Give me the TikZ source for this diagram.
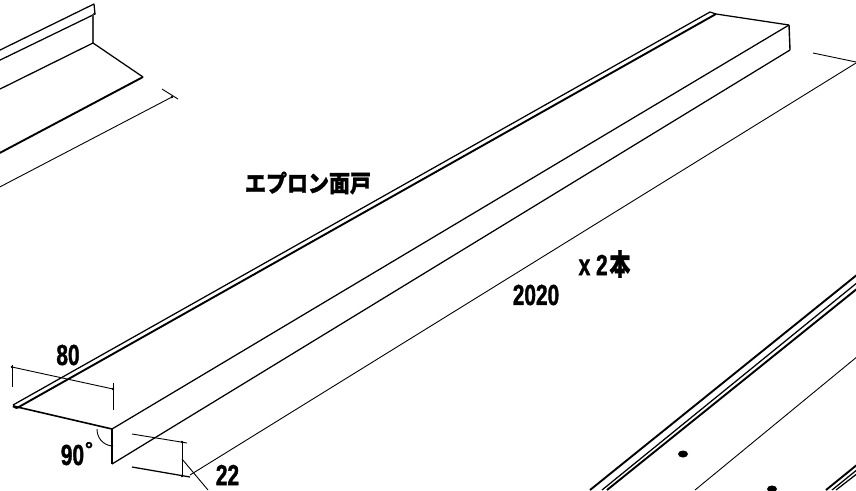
\documentclass[tikz,border=0pt]{standalone}
\usepackage{fontspec}
\setmainfont[BoldFeatures={FakeBold=1.6}]{Liberation Sans}
\newfontfamily\cjk[BoldFeatures={FakeBold=1.2}]{Noto Sans CJK JP}
\tikzset{
  thinline/.style={line width=0.9pt,black},
  midline/.style={line width=1.25pt,black},
  heavyline/.style={line width=1.9pt,black},
  dimtext/.style={inner sep=0pt,font=\bfseries\fontsize{29}{29}\selectfont,xscale=0.72,yscale=1},
  cjktext/.style={inner sep=0pt,font=\cjk\bfseries\fontsize{21}{21}\selectfont,yscale=1.12},
  dimdot/.style={circle,fill=black,inner sep=0pt,minimum size=2.6pt},
}
\begin{document}
\begin{tikzpicture}[x=1pt,y=-1pt]
\useasboundingbox (0,0) rectangle (856,490);
\fill[white] (0,0) rectangle (856,490);
\begin{scope}
\clip (0,0) rectangle (856,490);
% upper-left piece
\coordinate (la) at (94,4);
\coordinate (lb) at (95,14);
\coordinate (lc) at (93,43);
\coordinate (ld) at (143,77);
\draw[midline] (la) -- (-6,53);
\draw[midline] (la) -- (lb) -- (93,14);
\draw[midline] (lb) -- (-6,63);
\draw[line width=1.3pt,black!75] (93,14) -- (lc);
\draw[midline] (lc) -- (-6,92);
\draw[midline] (lc) -- (ld);
\draw[heavyline] (ld) -- (-6,156);
\coordinate (le) at (172,97);
\draw[thinline] (le) -- (-6,190);
\draw[thinline] (162,89) -- (178,99);
\node[dimdot] at (le) {};
% main flashing
\coordinate (tip) at (13,406);
\coordinate (fa) at (112,429);
\coordinate (fb) at (112,464);
\coordinate (ra) at (789,25);
\coordinate (rb) at (790,50);
\coordinate (ua) at (710,12);
\coordinate (ub) at (716,14);
\draw[midline] (13,405) -- (ua) -- (ub);
\draw[heavyline] (17,408) -- (ub);
\draw[line width=2.4pt] (tip) -- (17,408);
\draw[line width=1.6pt] (tip) -- (fa);
\draw[midline] (ub) -- (ra);
\draw[midline] (fa) -- (ra);
\draw[midline] (fa) -- (fb);
\draw[line width=1.4pt] (ra) -- (rb);
\draw[midline] (fb) -- (rb);
% 80 dimension
\coordinate (da) at (12,367);
\coordinate (db) at (113,389);
\draw[thinline] (da) -- (db);
\draw[thinline] (12,365) -- (12,387);
\draw[thinline] (113,383) -- (113,410);
\node[dimdot] at (da) {};
\node[dimdot] at (db) {};
\node[dimtext] (t80) at (68,355) {80};
% 90 arc
\coordinate (ac) at (112,446);
\draw[thinline] (97,429) .. controls (97,438) and (103,445) .. (ac);
\node[dimdot] at (ac) {};
\node[dimtext] (t90) at (72.5,455) {90};
\node[inner sep=0pt,font=\bfseries\fontsize{20}{20}\selectfont] (tdeg) at (89,449) {°};
% 22 dimension and long dimension
\coordinate (ga) at (182,442);
\coordinate (gb) at (182,476);
\coordinate (gl) at (182,459);
\coordinate (ge) at (208,490);
\draw[thinline] (132,434) -- (187,443);
\draw[midline] (132,467) -- (190,477);
\draw[thinline] (ga) -- (gb);
\draw[thinline] (gl) -- (ge);
\node[dimdot] at (ga) {};
\node[dimdot] at (gb) {};
\node[dimtext] (t22) at (227.5,475) {22};
\draw[thinline] (190,475) -- (856,63);
\draw[thinline] (813,53) -- (856,62);
% labels
\node[cjktext] (title) at (308,183) {エプロン面戸};
\node[dimtext] (tlen) at (536,295) {2020};
\node[dimtext] (tx) at (604.5,264) {x 2\kern2.5pt\cjk 本};
% lower-right piece
\draw[heavyline] (590,490) -- (858,274);
\draw[midline] (602,490) -- (858,282);
\draw[heavyline] (607,490) -- (858,288);
\draw[thinline] (695,490) -- (858,356);
\fill (683,454) ellipse (5pt and 3.5pt);
\fill (772,489) ellipse (5pt and 3.5pt);
\draw[heavyline] (826,490) -- (858,464);
\draw[midline] (832,490) -- (858,469);
\draw[midline] (836,490) -- (858,473);
\end{scope}
\end{tikzpicture}
\end{document}
